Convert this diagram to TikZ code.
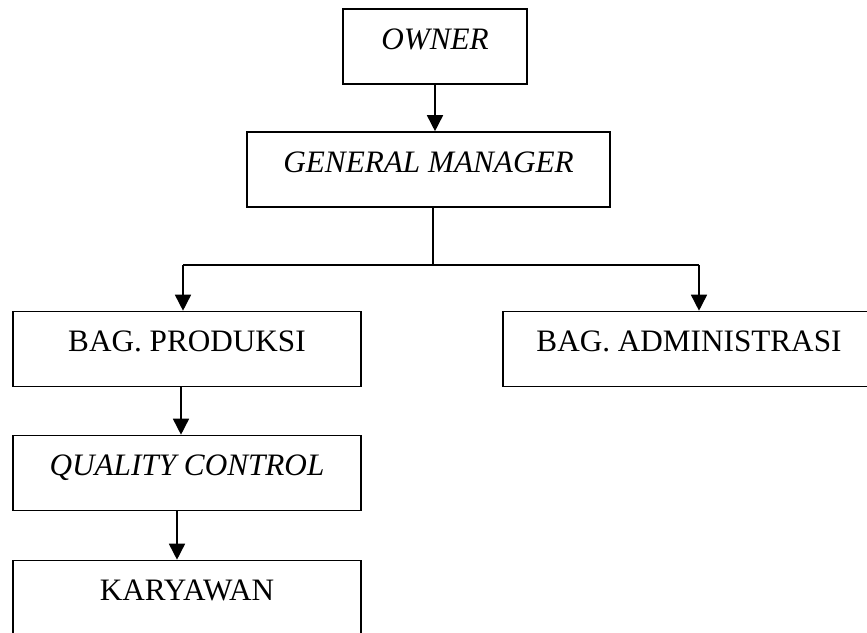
\documentclass[tikz,border=0pt]{standalone}
\usepackage{fontspec}
\setmainfont{Liberation Serif}
\usepackage{tikz}
\usetikzlibrary{calc,arrows.meta}
\tikzset{
  jabatan/.style={draw=black, line width=0.8pt, inner xsep=0pt, inner ysep=0pt,
    text height=20pt, text depth=17.5pt, font=\fontsize{15.6}{18}\selectfont},
  panah/.style={line width=0.8pt, -{Triangle[width=8pt,length=8pt]}}
}
\def\kotak{\node[jabatan]}
\def\drawgaris{\draw[line width=0.8pt]}

\begin{document}
\begin{tikzpicture}[x=0.5pt,y=-0.5pt]
\useasboundingbox (0,0) rectangle (867,632);
\clip (0,0) rectangle (867,632);

% ---------- top of the chart
\kotak[minimum width=92pt] (owner) at (435,46.5) {\textit{OWNER}};
\kotak[minimum width=181.5pt] (gm) at (428.5,169.5) {\textit{GENERAL MANAGER}};
\draw[panah] (owner.south) -- (owner.south |- gm.north);

% ---------- the two departments
\kotak[minimum width=174pt] (produksi) at (187,349) {BAG. PRODUKSI};
\kotak[minimum width=186pt] (admin) at (689,349) {BAG. ADMINISTRASI};

\coordinate (cabang) at (433,265); % where the line from the GM splits
\coordinate (kiri) at (183,265);
\coordinate (kanan) at (699,265);
\drawgaris (cabang |- gm.south) -- (cabang);
\drawgaris (kiri) -- (kanan);
\draw[panah] (kiri) -- (kiri |- produksi.north);
\draw[panah] (kanan) -- (kanan |- admin.north);

% ---------- below the production department
\kotak[minimum width=174pt] (qc) at (187,473) {\textit{QUALITY CONTROL}};
\kotak[minimum width=174pt] (karyawan) at (187,598) {KARYAWAN};
\draw[panah] ([xshift=-3pt]produksi.south) -- ([xshift=-3pt]produksi.south |- qc.north);
\draw[panah] ([xshift=-5pt]qc.south) -- ([xshift=-5pt]qc.south |- karyawan.north);
\end{tikzpicture}
\end{document}
